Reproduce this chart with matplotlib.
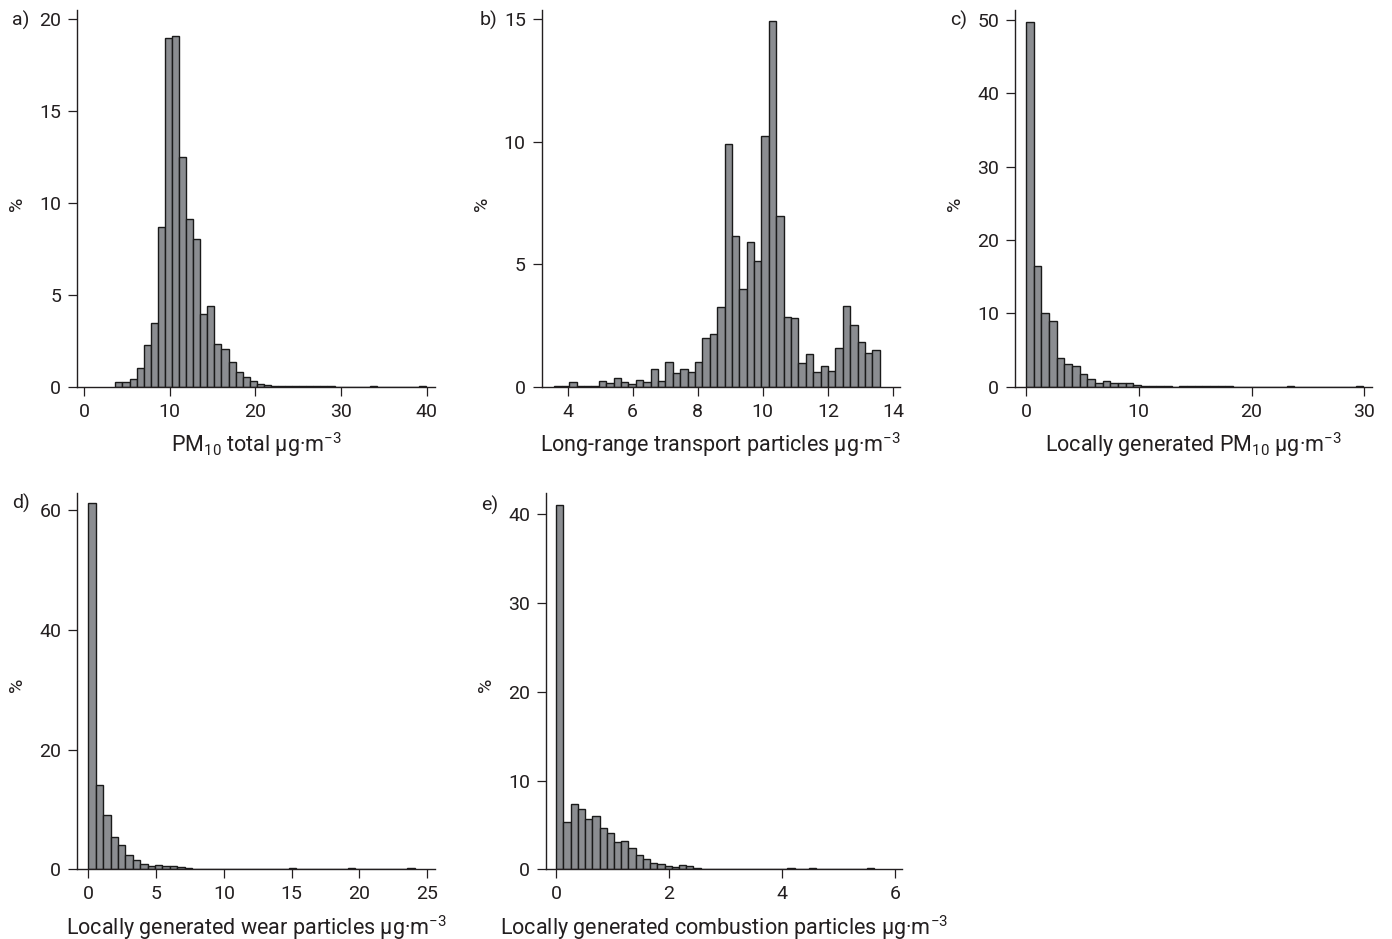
import matplotlib
matplotlib.use("Agg")
import matplotlib.pyplot as plt
import numpy as np

# ---------------- data (percent per bin) ----------------
# a) PM10 total
a_start, a_width = 3.67, 0.825
a_pct = [0.27, 0.27, 0.42, 1.0, 2.27, 3.45, 8.71, 18.97, 19.06, 12.49,
         9.15, 8.02, 3.96, 4.39, 2.3, 2.03, 1.32, 0.82, 0.54, 0.31,
         0.14, 0.07, 0.04, 0.02, 0.02, 0.02, 0.02, 0.02, 0.02, 0.02,
         0.02, 0, 0, 0, 0, 0, 0.03, 0, 0, 0,
         0, 0, 0, 0.02]
# b) Long-range transport particles
b_start, b_width = 3.59, 0.2275
b_pct = [0.04, 0.02, 0.2, 0.04, 0.03, 0.04, 0.22, 0.16, 0.34, 0.19,
         0.11, 0.29, 0.19, 0.71, 0.22, 1.0, 0.54, 0.71, 0.6, 1.0,
         1.99, 2.15, 3.25, 9.9, 6.15, 4.0, 5.89, 5.14, 10.23, 14.95,
         6.97, 2.86, 2.8, 0.97, 1.32, 0.58, 0.84, 0.65, 1.56, 3.3,
         2.52, 1.84, 1.39, 1.5]
# c) Locally generated PM10
c_start, c_width = 0.0, 0.68
c_pct = [49.7, 16.5, 10.1, 8.9, 3.95, 3.12, 2.84, 1.75, 1.02, 0.57,
         0.73, 0.57, 0.47, 0.5, 0.18, 0.1, 0.08, 0.06, 0.05, 0,
         0.05, 0.05, 0.05, 0.05, 0.05, 0.05, 0.05, 0, 0, 0,
         0, 0, 0, 0, 0.12, 0, 0, 0, 0, 0,
         0, 0, 0, 0.12]
# d) Locally generated wear particles
d_start, d_width = 0.0, 0.547
d_pct = [61.2, 14.0, 9.0, 5.4, 4.0, 2.4, 1.5, 0.95, 0.6, 0.78,
         0.5, 0.48, 0.35, 0.22, 0.12, 0.1, 0.07, 0.07, 0.07, 0.07,
         0.07, 0.07, 0.07, 0.07, 0.07, 0.07, 0, 0.15, 0, 0,
         0, 0, 0, 0, 0, 0.15, 0, 0, 0, 0,
         0, 0, 0, 0.15]
# e) Locally generated combustion particles
e_start, e_width = 0.0, 0.128
e_pct = [41.0, 5.3, 7.33, 6.8, 5.68, 5.98, 4.66, 4.1, 3.03, 3.14,
         2.37, 1.62, 1.15, 0.75, 0.6, 0.42, 0.3, 0.5, 0.42, 0.17,
         0.06, 0.06, 0.06, 0.06, 0, 0.06, 0.06, 0.06, 0.06, 0,
         0, 0, 0.1, 0, 0, 0.1, 0, 0, 0, 0,
         0, 0, 0, 0.1]

panel_letters = ["a)", "b)", "c)", "d)", "e)"]
xlabels = [r"PM$_{\mathregular{10}}$ total µg·m$^{\mathregular{-3}}$",
           r"Long-range transport particles µg·m$^{\mathregular{-3}}$",
           r"Locally generated PM$_{\mathregular{10}}$ µg·m$^{\mathregular{-3}}$",
           r"Locally generated wear particles µg·m$^{\mathregular{-3}}$",
           r"Locally generated combustion particles µg·m$^{\mathregular{-3}}$"]
xticks = [[0, 10, 20, 30, 40], [4, 6, 8, 10, 12, 14], [0, 10, 20, 30],
          [0, 5, 10, 15, 20, 25], [0, 2, 4, 6]]
yticks = [[0, 5, 10, 15, 20], [0, 5, 10, 15], [0, 10, 20, 30, 40, 50],
          [0, 20, 40, 60], [0, 10, 20, 30, 40]]

# ---------------- style ----------------
plt.rcParams['font.family'] = ['Roboto', 'DejaVu Sans']
plt.rcParams['mathtext.fontset'] = 'custom'
plt.rcParams['mathtext.rm'] = 'Roboto'
plt.rcParams['mathtext.it'] = 'Roboto'
plt.rcParams['mathtext.bf'] = 'Roboto'
TXT = '#231f20'
FS = 14
FSL = 15.5

W, H = 1392, 939
fig = plt.figure(figsize=(W / 100, H / 100), dpi=100)

# pixel boxes: left, right, top, bottom
boxes = [(77.3, 435, 10, 386.7), (541.7, 900, 10, 386.7), (1015, 1371.7, 10, 386.7),
         (77.3, 435, 493.3, 869.3), (546, 902.3, 493.3, 869.3)]
xlims = [(-0.78, 40.97), (3.2, 14.22), (-0.975, 30.66), (-0.81, 25.57), (-0.18, 6.13)]
ylims = [(0, 20.5), (0, 15.38), (0, 51.36), (0, 62.8), (0, 42.37)]
letter_pos = [(12, 20), (480, 20), (950, 20), (12, 503), (481, 505)]
pct_pos = [(17, 204), (482, 204), (955, 204), (17, 685), (486, 685)]

series = [(a_start, a_width, a_pct), (b_start, b_width, b_pct), (c_start, c_width, c_pct),
          (d_start, d_width, d_pct), (e_start, e_width, e_pct)]

for i, (start, width, pct) in enumerate(series):
    l, r, t, b = boxes[i]
    ax = fig.add_axes([l / W, 1 - b / H, (r - l) / W, (b - t) / H])
    lefts = start + width * np.arange(len(pct))
    ax.bar(lefts, pct, width=width, align='edge', color='#8b8d91',
           edgecolor='#1a1a1a', linewidth=1.0, zorder=2)
    ax.set_xlim(*xlims[i])
    ax.set_ylim(*ylims[i])
    ax.set_xticks(xticks[i])
    ax.set_yticks(yticks[i])
    for s in ['top', 'right']:
        ax.spines[s].set_visible(False)
    for s in ['left', 'bottom']:
        ax.spines[s].set_linewidth(1.0)
        ax.spines[s].set_color(TXT)
    ax.tick_params(axis='both', direction='out', length=6.5, width=0.9,
                   color=TXT, labelcolor=TXT, labelsize=FS, pad=5)
    ax.set_xlabel(xlabels[i], fontsize=FSL, color=TXT, labelpad=7)
    fig.text(letter_pos[i][0] / W, 1 - letter_pos[i][1] / H, panel_letters[i],
             fontsize=FS, color=TXT, ha='left', va='center')
    fig.text(pct_pos[i][0] / W, 1 - pct_pos[i][1] / H, '%', fontsize=FS,
             color=TXT, rotation=90, ha='center', va='center')

fig.savefig('out.png', dpi=100, facecolor='white')
